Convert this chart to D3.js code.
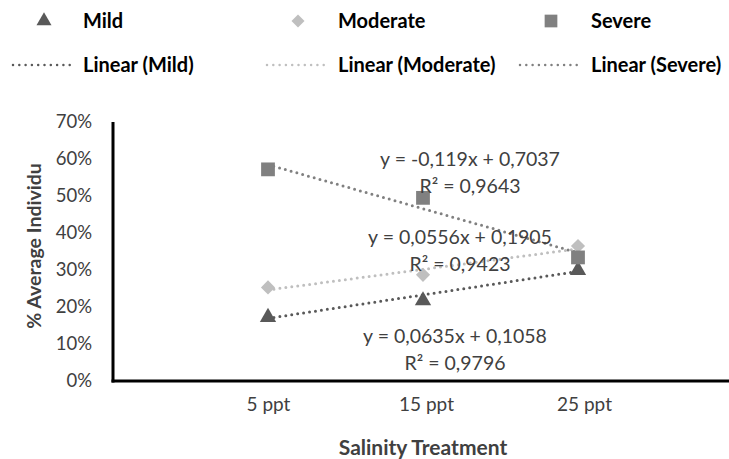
<!DOCTYPE html>
<html><head><meta charset="utf-8">
<script src="https://cdn.jsdelivr.net/npm/d3@7"></script>
<style>body{margin:0;background:#fff}svg{display:block}</style>
</head><body>
<svg id="c" width="729" height="459"></svg>
<script>
const categories = ["5 ppt", "15 ppt", "25 ppt"];
const mild = [0.175, 0.22, 0.302];
const moderate = [0.253, 0.287, 0.365];
const severe = [0.572, 0.495, 0.334];
const yTicks = [0, 0.1, 0.2, 0.3, 0.4, 0.5, 0.6, 0.7];
const trendMild = {slope: 0.0635, intercept: 0.1058, eq: "y = 0,0635x + 0,1058", r2: "R² = 0,9796"};
const trendModerate = {slope: 0.0556, intercept: 0.1905, eq: "y = 0,0556x + 0,1905", r2: "R² = 0,9423"};
const trendSevere = {slope: -0.119, intercept: 0.7037, eq: "y = -0,119x + 0,7037", r2: "R² = 0,9643"};

const series = [
  {name: "Mild", values: mild, trend: trendMild, color: "#595959", shape: d3.symbolTriangle, size: 115, rot: 0, eqPos: [455, 336]},
  {name: "Moderate", values: moderate, trend: trendModerate, color: "#bfbfbf", shape: d3.symbolSquare, size: 100, rot: 45, eqPos: [460, 237]},
  {name: "Severe", values: severe, trend: trendSevere, color: "#808080", shape: d3.symbolSquare, size: 190, rot: 0, eqPos: [470, 159]}
];

const svg = d3.select("#c");
const font = "Lato, 'Open Sans', sans-serif";
const x = d3.scaleLinear().domain([0, 4]).range([113, 733]);
const y = d3.scaleLinear().domain([0, 0.7]).range([381, 122]);

// y tick labels
const yAxis = d3.axisLeft(y).tickValues(yTicks).tickFormat(d3.format(".0%")).tickSize(0).tickPadding(21);
const gy = svg.append("g").attr("transform", "translate(113,0)").call(yAxis);
gy.select(".domain").remove();
gy.selectAll("text").attr("font-family", font).attr("font-size", 18.5).attr("fill", "#404040");

// x labels
const xAxis = d3.axisBottom(x).tickValues([1, 2, 3]).tickFormat((d) => categories[d - 1]).tickSize(0).tickPadding(17);
const gx = svg.append("g").attr("transform", "translate(0,381)").call(xAxis);
gx.select(".domain").remove();
gx.selectAll("text").attr("font-family", font).attr("font-size", 19).attr("fill", "#404040")
  .attr("dx", (d) => (d - 1) * 3);

// axis lines
svg.append("line").attr("x1", 113).attr("x2", 113).attr("y1", y(0.7)).attr("y2", y(0) + 1.5).attr("stroke", "#000").attr("stroke-width", 3);
svg.append("line").attr("x1", 111.5).attr("x2", 729).attr("y1", y(0)).attr("y2", y(0)).attr("stroke", "#000").attr("stroke-width", 3);

// axis titles
svg.append("text").attr("x", 423).attr("y", 455).attr("text-anchor", "middle")
  .attr("font-family", font).attr("font-weight", "bold").attr("font-size", 21).attr("fill", "#404040").text("Salinity Treatment");
svg.append("text").attr("transform", "translate(41,246) rotate(-90)").attr("text-anchor", "middle")
  .attr("font-family", font).attr("font-weight", "bold").attr("font-size", 19.5).attr("fill", "#404040").text("% Average Individu");

// trendlines
series.forEach(s => {
  const t = s.trend;
  svg.append("line")
    .attr("x1", x(1)).attr("y1", y(t.intercept + t.slope * 1))
    .attr("x2", x(3)).attr("y2", y(t.intercept + t.slope * 3))
    .attr("stroke", s.color).attr("stroke-width", 3).attr("stroke-linecap", "round")
    .attr("stroke-dasharray", "0 6");
});

// markers
series.forEach(s => {
  svg.append("g").selectAll("path").data(s.values).join("path")
    .attr("d", d3.symbol(s.shape, s.size))
    .attr("transform", (d, i) => `translate(${x(i + 1)},${y(d) + (s.shape === d3.symbolTriangle ? 1 : 0)}) rotate(${s.rot})`)
    .attr("fill", s.color);
});

// equations
series.forEach(s => {
  const g = svg.append("text").attr("text-anchor", "middle").attr("font-family", font)
    .attr("font-size", 19.5).attr("fill", "#404040");
  g.append("tspan").attr("x", s.eqPos[0]).attr("y", s.eqPos[1] + 7).text(s.trend.eq);
  g.append("tspan").attr("x", s.eqPos[0]).attr("y", s.eqPos[1] + 34).text(s.trend.r2);
});

// legend
const legX = [44, 298, 551];
const legTextX = [83, 338, 591];
series.forEach((s, i) => {
  svg.append("path").attr("d", d3.symbol(s.shape, s.size * 0.85)).attr("transform", `translate(${legX[i]},${21}) rotate(${s.rot})`).attr("fill", s.color);
  svg.append("text").attr("x", legTextX[i]).attr("y", 28).attr("font-family", font).attr("font-weight", "bold")
    .attr("font-size", 20).attr("fill", "#000").text(s.name);
  svg.append("line").attr("x1", legX[i] - 31).attr("x2", legX[i] + 27).attr("y1", 65).attr("y2", 65)
    .attr("stroke", s.color).attr("stroke-width", 2.5).attr("stroke-linecap", "round").attr("stroke-dasharray", "0 6.3");
  svg.append("text").attr("x", legTextX[i]).attr("y", 72).attr("font-family", font).attr("font-weight", "bold")
    .attr("font-size", 20).attr("fill", "#000").text("Linear (" + s.name + ")");
});
</script>
</body></html>
